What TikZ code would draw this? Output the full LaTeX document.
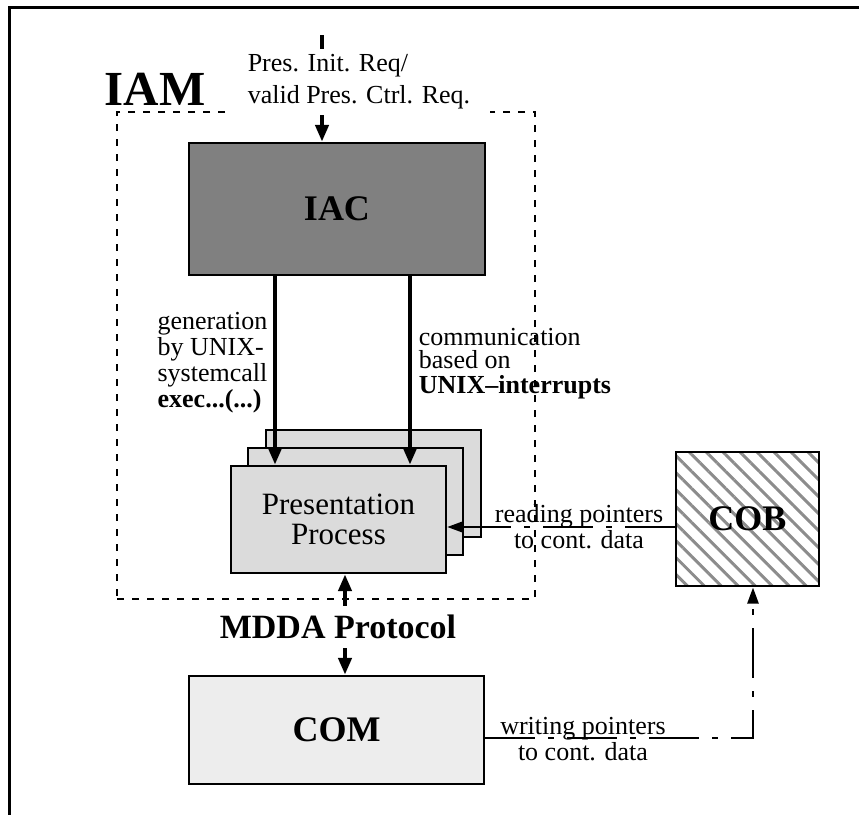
\documentclass[tikz,border=0pt]{standalone}
\usepackage{fontspec}
\setmainfont{Liberation Serif}
\usetikzlibrary{positioning}
\usetikzlibrary{arrows.meta}
\usetikzlibrary{patterns.meta}

\begin{document}
\begin{tikzpicture}[x=0.5pt,y=-0.5pt,
    box/.style={draw,line width=1.2pt,inner sep=0pt},
    boxfont/.style={font=\fontsize{18}{18}\selectfont\bfseries},
    thickarrow/.style={line width=2.4pt,-{Triangle[length=8.5pt,width=6.5pt]}},
    thickboth/.style={line width=2.4pt,{Triangle[length=8.5pt,width=6.5pt]}-{Triangle[length=8.5pt,width=6.5pt]}},
    ptr/.style={line width=1.2pt,dash pattern=on 25pt off 6.5pt on 3pt off 6.5pt,-{Triangle[length=8pt,width=5.5pt]}},
    lbl/.style={font=\fontsize{13}{13}\selectfont,inner sep=0pt}]
  \useasboundingbox (0,0) rectangle (859,815);
  \clip (0,0) rectangle (859,815);
  \draw[line width=1.5pt] (9.5,7.5) rectangle (900,900);

  \node[draw,line width=1pt,dash pattern=on 3.5pt off 4pt,minimum width=209pt,minimum height=243.5pt] (iam) at (326,355.5) {};
  \node[anchor=base,inner sep=0pt,font=\fontsize{24.5}{24.5}\selectfont\bfseries] (iamlbl) at (155,105) {IAM};

  \node[box,boxfont,fill=black!50,minimum width=148pt,minimum height=66pt] (iac) at (337,209) {IAC};

  \node[box,fill=black!14,minimum width=107.5pt,minimum height=53.5pt] (presc) at (373.5,483.5) {};
  \node[box,fill=black!14,minimum width=107.5pt,minimum height=53.5pt] (presb) at (355.5,501.5) {};
  \node[box,fill=black!14,minimum width=107.5pt,minimum height=53.5pt,align=center,font=\fontsize{15.5}{15}\selectfont] (pres) at (338.5,519.5) {Presentation\\Process};

  \node[box,boxfont,fill=black!7,minimum width=147.5pt,minimum height=54pt] (com) at (336.5,730) {COM};
  \node[box,boxfont,pattern={Lines[angle=-45,distance=6pt,line width=1.5pt]},pattern color=black!45,minimum width=71.5pt,minimum height=67pt] (cob) at (747.5,519) {COB};

  \coordinate (in) at (322,35);
  \draw[thickarrow] (in) -- (in |- iac.north);
  \node[lbl,fill=white,align=left,font=\fontsize{13}{16}\selectfont,minimum width=131pt,minimum height=33pt] (req) at (359,82) {Pres. Init. Req/\\valid Pres. Ctrl. Req.};

  \draw[thickarrow] ([xshift=-31pt]iac.south) -- ([xshift=-31pt]iac.south |- pres.north);
  \draw[thickarrow] ([xshift=36.5pt]iac.south) -- ([xshift=36.5pt]iac.south |- pres.north);
  \node[lbl,align=left] (gen) at (212.5,362.5) {generation\\by UNIX-\\systemcall\\\textbf{exec...(...)}};
  \node[lbl,align=left] (intr) at (515,363.5) {communication\\[-1.5pt]based on\\[-0.5pt]\textbf{UNIX--interrupts}};

  \draw[thickboth] ([xshift=3.25pt]pres.south) -- ([xshift=3.25pt]pres.south |- com.north);
  \node[fill=white,inner sep=0pt,minimum height=21pt,font=\fontsize{17}{17}\selectfont\bfseries] (mdda) at (338,627) {MDDA Protocol};

  \draw[ptr] ([yshift=-4pt]cob.west) -- ([yshift=-4pt]cob.west -| pres.east);
  \node[lbl,align=center] (readlbl) at (579,527) {reading pointers\\to cont. data};
  \draw[ptr] ([yshift=-4pt]com.east) -| ([xshift=2.75pt]cob.south);
  \node[lbl,align=center] (writelbl) at (583,739) {writing pointers\\to cont. data};
\end{tikzpicture}
\end{document}
